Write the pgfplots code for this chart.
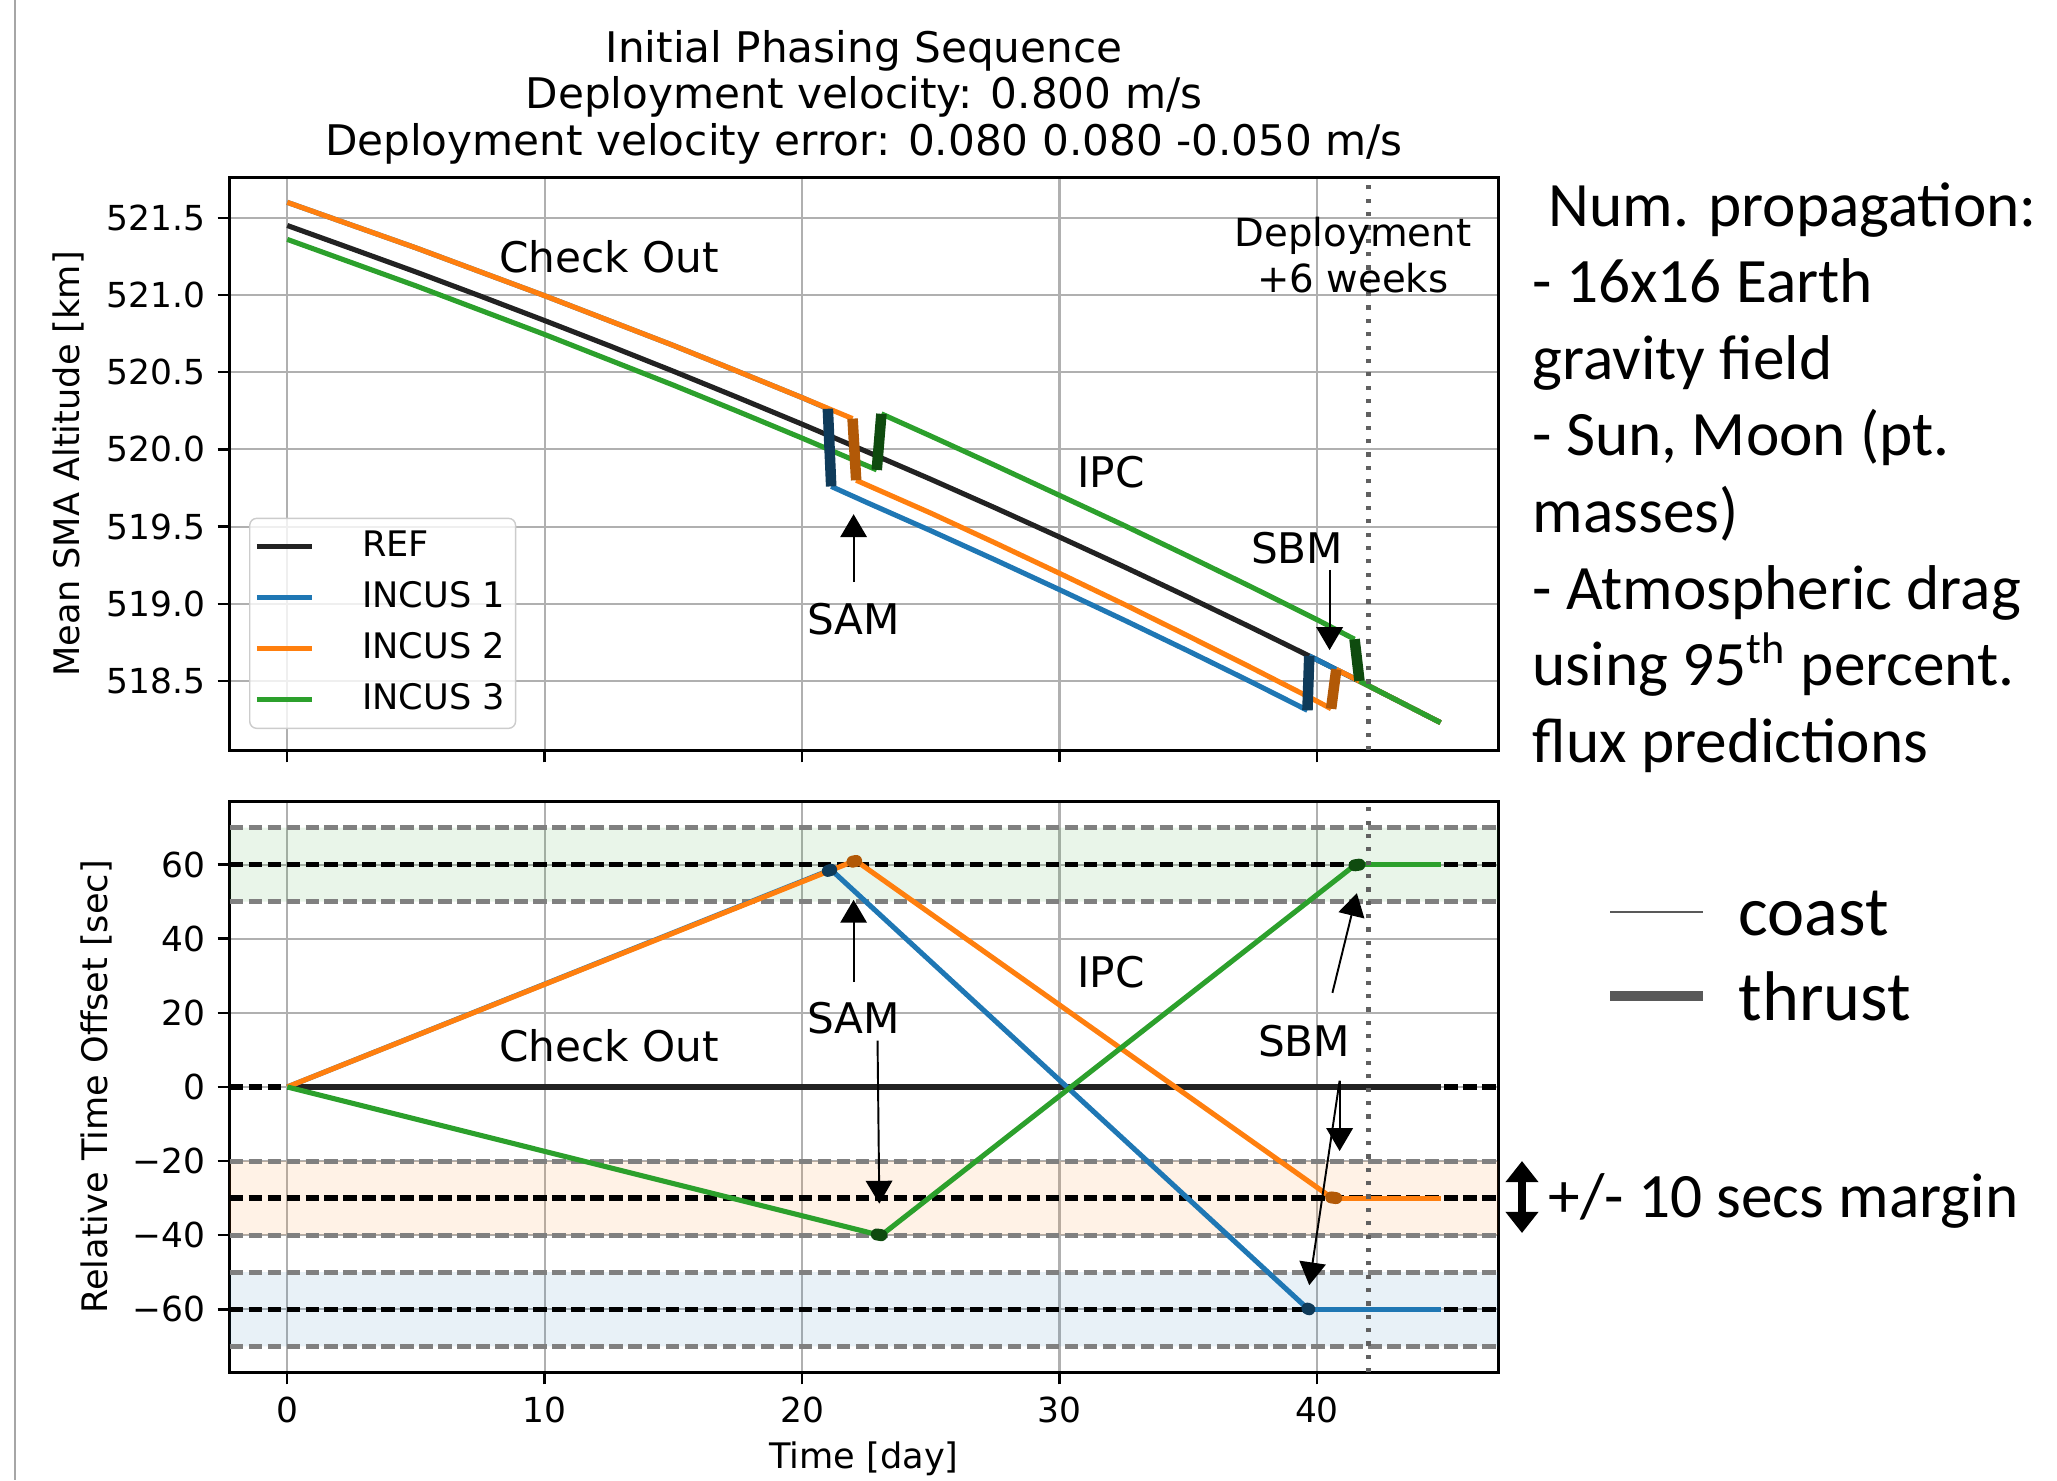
\documentclass[border=0pt]{standalone}
\usepackage{fontspec}
\setmainfont{DejaVu Sans}
\newfontfamily\calibri{Carlito}
\usepackage{pgfplots}
\pgfplotsset{compat=1.18}
\usetikzlibrary{arrows.meta}

\definecolor{tabblue}{HTML}{1F77B4}
\definecolor{taborange}{HTML}{FF7F0E}
\definecolor{tabgreen}{HTML}{2CA02C}
\definecolor{thblue}{RGB}{15,59,90}
\definecolor{thorange}{RGB}{178,89,7}
\definecolor{thgreen}{RGB}{15,75,15}
\definecolor{gridgray}{HTML}{B0B0B0}
\definecolor{refblack}{HTML}{222222}
\definecolor{dashgray}{HTML}{808080}
\definecolor{dotgray}{HTML}{606060}

\pgfplotsset{
  mpl/.style={
    scale only axis, width=12.686cm,
    xmin=-2.24, xmax=47.04,
    xtick={0,10,20,30,40},
    xtick pos=lower, ytick pos=left,
    grid=major, major grid style={gridgray, line width=0.6pt},
    tick align=outside, major tick length=0.12cm,
    tick style={black, line width=0.7pt},
    axis line style={line width=0.85pt},
    tick label style={font=\fontsize{9.8}{11}\selectfont},
    label style={font=\fontsize{10}{12}\selectfont},
    /pgf/number format/assume math mode=true,
  },
}
\tikzset{
  coast/.style={line width=1.45pt, line join=round},
  thrust/.style={line width=3pt},
  bthrust/.style={line width=3.4pt, line cap=round},
  ann/.style={font=\fontsize{12}{13.3}\selectfont},
  arr/.style={-{Triangle[width=7.5pt,length=6.5pt]}, line width=0.55pt, black},
  bdash/.style={black, line width=1.55pt, dash pattern=on 3.8pt off 1.6pt},
  gdash/.style={dashgray, line width=1.45pt, dash pattern=on 3.8pt off 1.6pt},
  vdot/.style={dotgray, line width=1.3pt, dash pattern=on 1.2pt off 2.6pt},
}

\begin{document}
\begin{tikzpicture}
\useasboundingbox (0,0) rectangle (20.57cm,-14.80cm);
\draw[gray!70, line width=0.8pt] (0.15cm,0) -- (0.15cm,-14.80cm);

% title
\node[align=center, font=\fontsize{12}{13.25}\selectfont] at (8.64cm,-0.97cm)
  {Initial Phasing Sequence\\Deployment velocity: 0.800 m/s\\Deployment velocity error: 0.080 0.080 -0.050 m/s};

% ---------------- top axis ----------------
\begin{axis}[mpl,
  at={(2.296cm,-1.77cm)}, anchor=north west,
  height=5.734cm,
  ymin=518.05, ymax=521.764,
  ytick={518.5,519,519.5,520,520.5,521,521.5},
  yticklabels={518.5,519.0,519.5,520.0,520.5,521.0,521.5},
  xticklabels={},
  ylabel={Mean SMA Altitude [km]},
  every axis y label/.style={at={(axis description cs:-0.1274,0.5)}, rotate=90, anchor=center},
  legend style={at={(axis description cs:0.0153,0.0373)}, anchor=south west,
    draw=black!20, fill=white, fill opacity=0.8, text opacity=1, rounded corners=2pt,
    inner xsep=0.045cm, inner ysep=0.03cm, font=\fontsize{10}{12}\selectfont, row sep=0pt,
    nodes={text height=0.25cm, text depth=0.05cm, inner ysep=0.105cm, inner xsep=0.06cm}},
  legend cell align=left,
  legend image code/.code={\draw[#1] (0cm,0cm) -- (0.55cm,0cm); \path (0.97cm,0cm);},
]
\addlegendimage{refblack, coast}\addlegendentry{REF}
\addlegendimage{tabblue, coast}\addlegendentry{INCUS 1}
\addlegendimage{taborange, coast}\addlegendentry{INCUS 2}
\addlegendimage{tabgreen, coast}\addlegendentry{INCUS 3}

% REF
\addplot[refblack, coast, forget plot] coordinates {(0,521.45) (2.5,521.30) (5,521.149) (7.5,520.993) (10,520.834) (12.5,520.672) (15,520.506) (17.5,520.336) (20,520.163) (22.5,519.986) (25,519.806) (27.5,519.621) (30,519.432) (32.5,519.240) (35,519.043) (37.5,518.842) (40,518.637) (42,518.469) (44.8,518.23)};
% INCUS 1
\addplot[tabblue, coast, forget plot] coordinates {(0,521.60) (5,521.305) (10,520.995) (15,520.673) (17.5,520.505) (20,520.335) (21.0,520.263)};
\addplot[tabblue, coast, forget plot] coordinates {(21.13,519.76) (22.5,519.657) (25,519.473) (27.5,519.284) (30,519.091) (32.5,518.895) (35,518.694) (37.5,518.489) (39.63,518.31)};
\addplot[tabblue, coast, forget plot] coordinates {(39.7,518.662) (40,518.637) (42,518.469) (44.8,518.23)};
% INCUS 2
\addplot[taborange, coast, forget plot] coordinates {(0,521.60) (5,521.305) (10,520.995) (15,520.673) (17.5,520.505) (20,520.335) (21.96,520.199)};
\addplot[taborange, coast, forget plot] coordinates {(22.1,519.80) (25,519.587) (27.5,519.394) (30,519.197) (32.5,518.997) (35,518.791) (37.5,518.582) (40,518.369) (40.55,518.32)};
\addplot[taborange, coast, forget plot] coordinates {(40.75,518.575) (42,518.469) (44.8,518.23)};
% INCUS 3
\addplot[tabgreen, coast, forget plot] coordinates {(0,521.36) (5,521.059) (10,520.744) (15,520.416) (17.5,520.246) (20,520.073) (22.9,519.867)};
\addplot[tabgreen, coast, forget plot] coordinates {(23.08,520.23) (25,520.086) (27.5,519.896) (30,519.702) (32.5,519.508) (35,519.308) (37.5,519.105) (40,518.897) (41.46,518.77)};
\addplot[tabgreen, coast, forget plot] coordinates {(41.65,518.50) (42,518.469) (44.8,518.23)};
% thrusts
\addplot[thblue, thrust, forget plot] coordinates {(21.0,520.263) (21.13,519.76)};
\addplot[thblue, thrust, forget plot] coordinates {(39.63,518.31) (39.7,518.662)};
\addplot[thorange, thrust, forget plot] coordinates {(21.96,520.199) (22.1,519.80)};
\addplot[thorange, thrust, forget plot] coordinates {(40.55,518.32) (40.75,518.575)};
\addplot[thgreen, thrust, forget plot] coordinates {(22.9,519.867) (23.08,520.23)};
\addplot[thgreen, thrust, forget plot] coordinates {(41.46,518.77) (41.65,518.50)};
% deployment line
\addplot[vdot, forget plot] coordinates {(42,518.05) (42,521.764)};

\node[ann] at (axis cs:12.5,521.245) {Check Out};
\node[ann] at (axis cs:32,519.85) {IPC};
\node[align=center, font=\fontsize{11}{13.1}\selectfont] at (axis cs:41.4,521.26) {Deployment\\+6 weeks};
\node[ann] at (axis cs:39.23,519.36) {SBM};
\node[ann] at (axis cs:22.0,518.90) {SAM};
\draw[arr] (axis cs:22,519.14) -- (axis cs:22,519.58);
\draw[arr] (axis cs:40.49,519.22) -- (axis cs:40.49,518.70);
\end{axis}

% ---------------- bottom axis ----------------
\begin{axis}[mpl,
  at={(2.296cm,-8.016cm)}, anchor=north west,
  height=5.707cm,
  ymin=-77, ymax=77,
  ytick={-60,-40,-20,0,20,40,60},
  yticklabels={−60,−40,−20,0,20,40,60},
  xlabel={Time [day]},
  ylabel={Relative Time Offset [sec]},
  every axis y label/.style={at={(axis description cs:-0.1053,0.5)}, rotate=90, anchor=center},
  every axis x label/.style={at={(axis description cs:0.5,-0.152)}, anchor=center},
]
% margin bands
\addplot[draw=none, fill=tabgreen, fill opacity=0.1, forget plot] coordinates {(-2.24,50) (47.04,50) (47.04,70) (-2.24,70) (-2.24,50)};
\addplot[draw=none, fill=taborange, fill opacity=0.1, forget plot] coordinates {(-2.24,-40) (47.04,-40) (47.04,-20) (-2.24,-20) (-2.24,-40)};
\addplot[draw=none, fill=tabblue, fill opacity=0.1, forget plot] coordinates {(-2.24,-70) (47.04,-70) (47.04,-50) (-2.24,-50) (-2.24,-70)};
% margin lines
\addplot[gdash, forget plot] coordinates {(-2.24,70) (47.04,70)};
\addplot[gdash, forget plot] coordinates {(-2.24,50) (47.04,50)};
\addplot[gdash, forget plot] coordinates {(-2.24,-20) (47.04,-20)};
\addplot[gdash, forget plot] coordinates {(-2.24,-40) (47.04,-40)};
\addplot[gdash, forget plot] coordinates {(-2.24,-50) (47.04,-50)};
\addplot[gdash, forget plot] coordinates {(-2.24,-70) (47.04,-70)};
% target lines
\addplot[bdash, forget plot] coordinates {(-2.24,60) (47.04,60)};
\addplot[bdash, forget plot] coordinates {(-2.24,0) (47.04,0)};
\addplot[bdash, forget plot] coordinates {(-2.24,-30) (47.04,-30)};
\addplot[bdash, forget plot] coordinates {(-2.24,-60) (47.04,-60)};
% REF
\addplot[refblack, coast, forget plot] coordinates {(0,0) (44.8,0)};
% INCUS 1
\addplot[tabblue, coast, forget plot] coordinates {(0,0) (21.0,58.3)};
\addplot[tabblue, coast, forget plot] coordinates {(21.13,58.6) (39.63,-59.8)};
\addplot[tabblue, coast, forget plot] coordinates {(39.7,-60) (44.8,-60)};
% INCUS 2
\addplot[taborange, coast, forget plot] coordinates {(0,0) (21.96,60.8)};
\addplot[taborange, coast, forget plot] coordinates {(22.1,61.0) (40.55,-29.8)};
\addplot[taborange, coast, forget plot] coordinates {(40.75,-30) (44.8,-30)};
% INCUS 3
\addplot[tabgreen, coast, forget plot] coordinates {(0,0) (22.9,-39.8)};
\addplot[tabgreen, coast, forget plot] coordinates {(23.08,-40) (41.46,59.8)};
\addplot[tabgreen, coast, forget plot] coordinates {(41.65,60) (44.8,60)};
% thrusts
\addplot[thblue, bthrust, forget plot] coordinates {(21.0,58.3) (21.13,58.6)};
\addplot[thblue, bthrust, forget plot] coordinates {(39.63,-59.8) (39.7,-60)};
\addplot[thorange, bthrust, forget plot] coordinates {(21.96,60.8) (22.1,61.0)};
\addplot[thorange, bthrust, forget plot] coordinates {(40.55,-29.8) (40.75,-30)};
\addplot[thgreen, bthrust, forget plot] coordinates {(22.9,-39.8) (23.08,-40)};
\addplot[thgreen, bthrust, forget plot] coordinates {(41.46,59.8) (41.65,60)};
% deployment line
\addplot[vdot, forget plot] coordinates {(42,-77) (42,77)};

\node[ann] at (axis cs:12.5,11) {Check Out};
\node[ann] at (axis cs:32,31) {IPC};
\node[ann] at (axis cs:22,18.7) {SAM};
\node[ann] at (axis cs:39.5,12.4) {SBM};
\draw[arr] (axis cs:22,28.3) -- (axis cs:22,50.5);
\draw[arr] (axis cs:22.93,12.5) -- (axis cs:23.0,-31.5);
\draw[arr] (axis cs:40.6,25.4) -- (axis cs:41.55,52.3);
\draw[arr] (axis cs:40.88,1.7) -- (axis cs:40.88,-17.3);
\draw[arr] (axis cs:40.88,1.7) -- (axis cs:39.7,-53.5);
\end{axis}

% ---------------- right-hand notes ----------------
\begin{scope}[every node/.style={anchor=base west, inner sep=0pt, font=\calibri\fontsize{18}{21.5}\selectfont}]
\node at (15.48cm,-2.26cm) {Num. propagation:};
\node at (15.32cm,-3.026cm) {- 16x16 Earth};
\node at (15.32cm,-3.792cm) {gravity field};
\node at (15.32cm,-4.558cm) {- Sun, Moon (pt.};
\node at (15.32cm,-5.324cm) {masses)};
\node at (15.32cm,-6.09cm) {- Atmospheric drag};
\node at (15.32cm,-6.856cm) {using 95\textsuperscript{th} percent.};
\node at (15.32cm,-7.622cm) {flux predictions};
\end{scope}
\draw[black!65, line width=0.7pt] (16.10cm,-9.12cm) -- (17.03cm,-9.12cm);
\draw[black!65, line width=2.8pt] (16.10cm,-9.96cm) -- (17.03cm,-9.96cm);
\node[anchor=base west, inner sep=0pt, font=\calibri\fontsize{20}{24}\selectfont] at (17.38cm,-9.35cm) {coast};
\node[anchor=base west, inner sep=0pt, font=\calibri\fontsize{20}{24}\selectfont] at (17.38cm,-10.20cm) {thrust};
\draw[{Triangle[width=9pt,length=6pt]}-{Triangle[width=9pt,length=6pt]}, line width=2pt] (15.22cm,-11.61cm) -- (15.22cm,-12.33cm);
\node[anchor=base west, inner sep=0pt, font=\calibri\fontsize{18}{21.5}\selectfont] at (15.48cm,-12.17cm) {+/- 10 secs margin};
\end{tikzpicture}
\end{document}
